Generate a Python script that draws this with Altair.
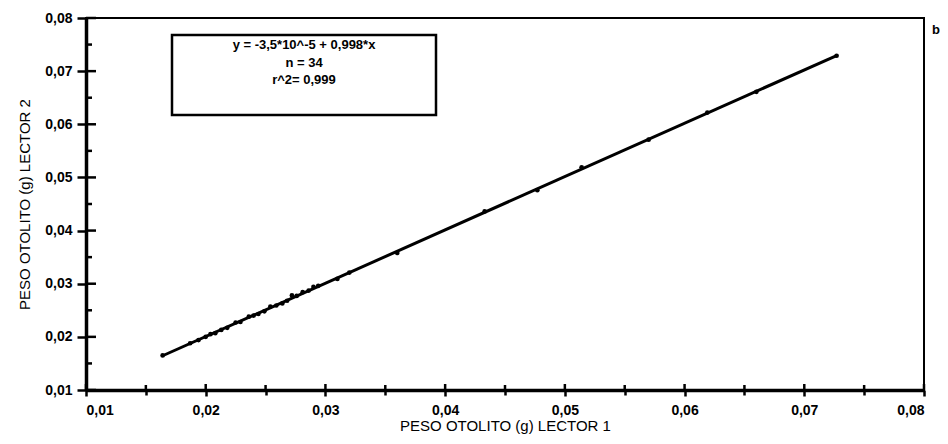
import altair as alt
import pandas as pd

# Data
lector1 = [0.0164, 0.0187, 0.0194, 0.0200, 0.0204, 0.0208, 0.0213, 0.0218, 0.0225, 0.0229,
           0.0236, 0.0240, 0.0244, 0.0249, 0.0254, 0.0259, 0.0264, 0.0268, 0.0272, 0.0276,
           0.0281, 0.0286, 0.0290, 0.0294, 0.0310, 0.0320, 0.0360, 0.0433, 0.0477, 0.0514,
           0.0570, 0.0619, 0.0660, 0.0727]
lector2 = [0.0165, 0.0188, 0.0194, 0.0200, 0.0205, 0.0207, 0.0213, 0.0217, 0.0227, 0.0228,
           0.0238, 0.0240, 0.0243, 0.0248, 0.0257, 0.0259, 0.0263, 0.0268, 0.0278, 0.0277,
           0.0284, 0.0287, 0.0294, 0.0296, 0.0309, 0.0321, 0.0358, 0.0436, 0.0476, 0.0519,
           0.0571, 0.0622, 0.0661, 0.0729]
major_ticks = [0.01, 0.02, 0.03, 0.04, 0.05, 0.06, 0.07, 0.08]
minor_ticks = [0.015, 0.025, 0.035, 0.045, 0.055, 0.065, 0.075]
eq_lines = ["y = -3,5*10^-5 + 0,998*x", "n = 34", "r^2= 0,999"]
x_title = "PESO OTOLITO (g) LECTOR 1"
y_title = "PESO OTOLITO (g) LECTOR 2"
panel_tag = "b"

W, H = 838, 372
FONT = "Liberation Sans"

df = pd.DataFrame({"l1": lector1, "l2": lector2})
one = pd.DataFrame({"a": [0]})
all_ticks = sorted(major_ticks + minor_ticks)

is_major = "abs(datum.value*100 - round(datum.value*100)) < 0.001"
label_expr = f"{is_major} ? replace(format(datum.value, '.2f'), '.', ',') : ''"

scale = alt.Scale(domain=[0.01, 0.08], nice=False, zero=False)

common_axis = dict(
    values=all_ticks, labelExpr=label_expr, grid=False,
    domainColor="black", domainWidth=3.5, tickColor="black", tickWidth=2.5,
    labelFont=FONT, labelFontSize=14, labelFontWeight="bold", labelColor="black",
    titleFont=FONT, titleFontSize=15, titleFontWeight="normal", titleColor="black",
)

x_axis = alt.Axis(title=x_title, labelPadding=7, titlePadding=1,
                  tickSize={"condition": {"test": is_major, "value": 6}, "value": 5},
                  **common_axis)
y_axis = alt.Axis(title=y_title, labelPadding=5, titlePadding=12,
                  tickSize={"condition": {"test": is_major, "value": 9}, "value": 5},
                  **common_axis)

base = alt.Chart(df)

points = base.mark_circle(size=22, color="black", opacity=1).encode(
    x=alt.X("l1:Q", scale=scale, axis=x_axis),
    y=alt.Y("l2:Q", scale=scale, axis=y_axis),
)

fit = base.transform_regression("l1", "l2").mark_line(color="black", strokeWidth=3).encode(
    x=alt.X("l1:Q", scale=scale),
    y=alt.Y("l2:Q", scale=scale),
)

# inward parts of the ticks
xmaj = alt.Chart(pd.DataFrame({"v": major_ticks})).mark_rule(color="black", strokeWidth=2.5).encode(
    x=alt.X("v:Q", scale=scale), y=alt.value(H), y2=alt.value(H - 6))
xmin = alt.Chart(pd.DataFrame({"v": minor_ticks})).mark_rule(color="black", strokeWidth=2.5).encode(
    x=alt.X("v:Q", scale=scale), y=alt.value(H), y2=alt.value(H - 5))
ymaj = alt.Chart(pd.DataFrame({"v": major_ticks})).mark_rule(color="black", strokeWidth=2.5).encode(
    y=alt.Y("v:Q", scale=scale), x=alt.value(0), x2=alt.value(10))
ymin = alt.Chart(pd.DataFrame({"v": minor_ticks})).mark_rule(color="black", strokeWidth=2.5).encode(
    y=alt.Y("v:Q", scale=scale), x=alt.value(0), x2=alt.value(6))

box = alt.Chart(one).mark_rect(fill="white", stroke="black", strokeWidth=2.5).encode(
    x=alt.value(86), x2=alt.value(350), y=alt.value(17), y2=alt.value(97))

eq = alt.Chart(one).mark_text(font=FONT, fontSize=13, fontWeight="bold", color="black",
                              align="center", baseline="top", lineHeight=17.5).encode(
    x=alt.value(218), y=alt.value(21), text=alt.value(eq_lines))

tag = alt.Chart(one).mark_text(font=FONT, fontSize=13, fontWeight="bold", color="black",
                               align="right", baseline="middle").encode(
    x=alt.value(854), y=alt.value(12), text=alt.value(panel_tag))

chart = alt.layer(points, fit, xmaj, xmin, ymaj, ymin, box, eq, tag).properties(
    width=W, height=H,
    autosize=alt.AutoSizeParams(type="none"),
    padding={"left": 78, "top": 10, "right": 16, "bottom": 46},
    background="white",
).configure_view(stroke="black", strokeWidth=2)

chart.save("out.html", embed_options={"renderer": "svg", "actions": False})
